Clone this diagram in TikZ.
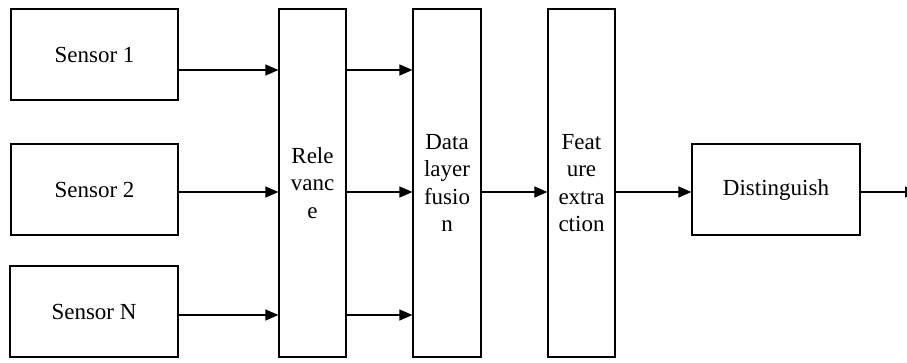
\documentclass[tikz,border=0pt]{standalone}
\usepackage{fontspec}
\setmainfont{Liberation Serif}
\usetikzlibrary{arrows.meta,calc}
\begin{document}
\begin{tikzpicture}[x=1pt,y=-1pt,
  box/.style={draw,line width=1.2pt,rectangle,inner sep=0pt,align=center,
    font=\fontsize{23}{27.5}\selectfont},
  arr/.style={draw,line width=1.2pt,-{Triangle[length=13pt,width=11pt]}}]
\clip (0,0) rectangle (907,362);
\node[box,minimum width=167pt,minimum height=91pt] (s1) at (94.5,54.5) {Sensor 1};
\node[box,minimum width=167pt,minimum height=91pt] (s2) at (94.5,189.5) {Sensor 2};
\node[box,minimum width=168pt,minimum height=91pt] (sn) at (94,311.5) {Sensor N};
\node[box,minimum width=67pt,minimum height=348pt] (rel) at (312.5,183) {Rele\\vanc\\e};
\node[box,minimum width=68pt,minimum height=348pt] (dlf) at (447,183) {Data\\layer\\fusio\\n};
\node[box,minimum width=67pt,minimum height=348pt] (fe) at (581.5,183) {Feat\\ure\\extra\\ction};
\node[box,minimum width=168pt,minimum height=91pt] (dist) at (776,189.5) {Distinguish};
\coordinate (out) at (918,192);
\draw[arr] ([yshift=-15.5pt]s1.east) coordinate (a1) -- (a1 -| rel.west);
\draw[arr] ([yshift=-2.5pt]s2.east) coordinate (a2) -- (a2 -| rel.west);
\draw[arr] ([yshift=-3.5pt]sn.east) coordinate (a3) -- (a3 -| rel.west);
\draw[arr] (a1 -| rel.east) -- (a1 -| dlf.west);
\draw[arr] (a2 -| rel.east) -- (a2 -| dlf.west);
\draw[arr] (a3 -| rel.east) -- (a3 -| dlf.west);
\draw[arr] (a2 -| dlf.east) -- (a2 -| fe.west);
\draw[arr] (a2 -| fe.east) -- (a2 -| dist.west);
\draw[arr] (a2 -| dist.east) -- (out);
\end{tikzpicture}
\end{document}
